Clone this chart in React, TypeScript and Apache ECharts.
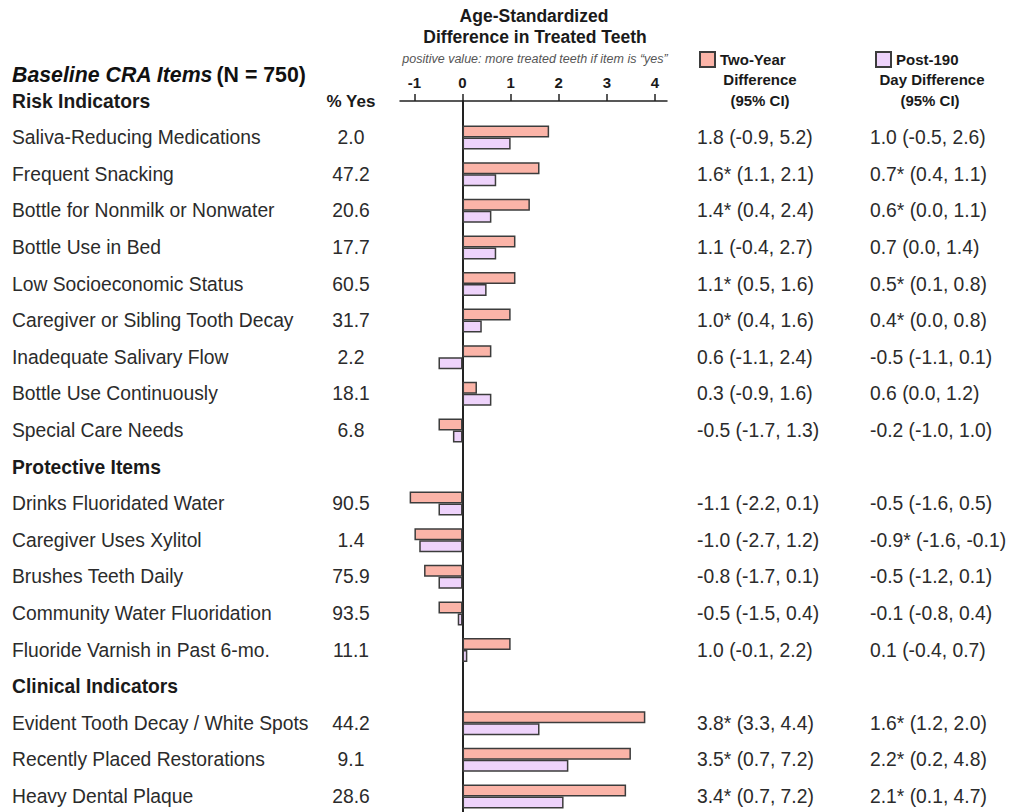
import React, { useEffect, useRef } from "react";
import * as echarts from "echarts";

const FONT = "'Liberation Sans', Arial, Helvetica, sans-serif";

// Row labels (first row of each group is a section header; last entry is a trailing blank row)
const items = [
  "Risk Indicators",
  "Saliva-Reducing Medications",
  "Frequent Snacking",
  "Bottle for Nonmilk or Nonwater",
  "Bottle Use in Bed",
  "Low Socioeconomic Status",
  "Caregiver or Sibling Tooth Decay",
  "Inadequate Salivary Flow",
  "Bottle Use Continuously",
  "Special Care Needs",
  "Protective Items",
  "Drinks Fluoridated Water",
  "Caregiver Uses Xylitol",
  "Brushes Teeth Daily",
  "Community Water Fluoridation",
  "Fluoride Varnish in Past 6-mo.",
  "Clinical Indicators",
  "Evident Tooth Decay / White Spots",
  "Recently Placed Restorations",
  "Heavy Dental Plaque",
  "",
];
const headers = ["Risk Indicators", "Protective Items", "Clinical Indicators"];

const pctYes = [
  "% Yes", "2.0", "47.2", "20.6", "17.7", "60.5", "31.7", "2.2", "18.1", "6.8",
  "", "90.5", "1.4", "75.9", "93.5", "11.1",
  "", "44.2", "9.1", "28.6", "",
];

const twoYear = [
  null, 1.8, 1.6, 1.4, 1.1, 1.1, 1.0, 0.6, 0.3, -0.5,
  null, -1.1, -1.0, -0.8, -0.5, 1.0,
  null, 3.8, 3.5, 3.4, null,
];
const post190 = [
  null, 1.0, 0.7, 0.6, 0.7, 0.5, 0.4, -0.5, 0.6, -0.2,
  null, -0.5, -0.9, -0.5, -0.1, 0.1,
  null, 1.6, 2.2, 2.1, null,
];

const twoYearCI = [
  "", "1.8 (-0.9, 5.2)", "1.6* (1.1, 2.1)", "1.4* (0.4, 2.4)", "1.1 (-0.4, 2.7)",
  "1.1* (0.5, 1.6)", "1.0* (0.4, 1.6)", "0.6 (-1.1, 2.4)", "0.3 (-0.9, 1.6)", "-0.5 (-1.7, 1.3)",
  "", "-1.1 (-2.2, 0.1)", "-1.0 (-2.7, 1.2)", "-0.8 (-1.7, 0.1)", "-0.5 (-1.5, 0.4)", "1.0 (-0.1, 2.2)",
  "", "3.8* (3.3, 4.4)", "3.5* (0.7, 7.2)", "3.4* (0.7, 7.2)", "",
];
const post190CI = [
  "", "1.0 (-0.5, 2.6)", "0.7* (0.4, 1.1)", "0.6* (0.0, 1.1)", "0.7 (0.0, 1.4)",
  "0.5* (0.1, 0.8)", "0.4* (0.0, 0.8)", "-0.5 (-1.1, 0.1)", "0.6 (0.0, 1.2)", "-0.2 (-1.0, 1.0)",
  "", "-0.5 (-1.6, 0.5)", "-0.9* (-1.6, -0.1)", "-0.5 (-1.2, 0.1)", "-0.1 (-0.8, 0.4)", "0.1 (-0.4, 0.7)",
  "", "1.6* (1.2, 2.0)", "2.2* (0.2, 4.8)", "2.1* (0.1, 4.7)", "",
];

const xTicks = [-1, 0, 1, 2, 3, 4];

const PINK = "#fbb4a8";
const LILAC = "#eed3fb";
const BORDER = "#3c3c3c";
const TEXT = "#2b2b2b";
const ROW_FS = 19.3;

function labelAxis(position: string, data: string[], margin: number, align: string, fs = ROW_FS, hfs = ROW_FS) {
  return {
    type: "category",
    data: data.map((_, i) => String(i)),
    position,
    inverse: true,
    boundaryGap: false,
    axisLine: { show: false, onZero: false },
    axisTick: { show: false },
    splitLine: { show: false },
    axisLabel: {
      interval: 0,
      margin,
      align,
      fontFamily: FONT,
      fontSize: fs,
      color: TEXT,
      formatter: (v: string) => {
        const t = data[Number(v)];
        if (!t) return "";
        if (headers.includes(t) || t === "% Yes") return `{h|${t}}`;
        return t;
      },
      rich: {
        h: { fontFamily: FONT, fontSize: hfs, fontWeight: "bold", color: "#1a1a1a" },
      },
    },
  };
}

const legendText = { fontFamily: FONT, fontSize: 15, fontWeight: "bold", color: "#1a1a1a" };
const subText = (text: string, x: number, y: number) => ({
  type: "text",
  x,
  y,
  style: { text, fontFamily: FONT, fontSize: 15, fontWeight: "bold", fill: "#1a1a1a", align: "center", verticalAlign: "middle" },
});

export default function App() {
  const ref = useRef<HTMLDivElement>(null);
  useEffect(() => {
    if (!ref.current) return;
    const chart = echarts.init(ref.current, undefined, { renderer: "svg" });
    const option: any = {
      animation: false,
      backgroundColor: "#ffffff",
      textStyle: { fontFamily: FONT },
      grid: { left: 400, right: 347, top: 101, height: 732, containLabel: false, outerBoundsMode: "none" },
      xAxis: {
        type: "value",
        position: "top",
        min: -1.3,
        max: 4.25,
        splitLine: { show: false },
        axisLine: { show: true, lineStyle: { color: "#222", width: 1.5 } },
        axisTick: { show: true, customValues: xTicks, length: 7, lineStyle: { color: "#222", width: 1.5 } },
        axisLabel: {
          customValues: xTicks,
          margin: 11,
          fontFamily: FONT,
          fontSize: 15,
          fontWeight: "bold",
          color: "#1a1a1a",
        },
      },
      yAxis: [
        {
          type: "category",
          data: items.map((_, i) => String(i)),
          inverse: true,
          boundaryGap: false,
          axisLine: { show: true, onZero: true, lineStyle: { color: "#222", width: 2 } },
          axisTick: { show: false },
          axisLabel: { show: false },
          splitLine: { show: false },
        },
        labelAxis("left", items, 388, "left"),
        labelAxis("left", pctYes, 49, "center", ROW_FS, 17),
        labelAxis("right", twoYearCI, 30, "left"),
        labelAxis("right", post190CI, 203, "left"),
      ],
      legend: [
        {
          data: ["Two-Year Difference (95% CI)"],
          left: 699,
          top: 51,
          icon: "rect",
          itemWidth: 15,
          itemHeight: 15,
          itemGap: 6,
          padding: 0,
          formatter: () => "Two-Year",
          textStyle: legendText,
        },
        {
          data: ["Post-190 Day Difference (95% CI)"],
          left: 875,
          top: 51,
          icon: "rect",
          itemWidth: 15,
          itemHeight: 15,
          padding: 0,
          formatter: () => "Post-190",
          textStyle: legendText,
        },
      ],
      series: [
        {
          name: "Two-Year Difference (95% CI)",
          type: "bar",
          yAxisIndex: 0,
          data: twoYear,
          barWidth: 12,
          barGap: "0%",
          itemStyle: { color: PINK, borderColor: BORDER, borderWidth: 1.5 },
        },
        {
          name: "Post-190 Day Difference (95% CI)",
          type: "bar",
          yAxisIndex: 0,
          data: post190,
          barWidth: 12,
          barGap: "0%",
          itemStyle: { color: LILAC, borderColor: BORDER, borderWidth: 1.5 },
        },
      ],
      graphic: [
        {
          type: "text",
          x: 12,
          y: 75,
          style: {
            text: "{i|Baseline CRA Items} {b|(N = 750)}",
            verticalAlign: "middle",
            rich: {
              i: { fontFamily: FONT, fontSize: 21.3, fontWeight: "bold", fontStyle: "italic", fill: "#111" },
              b: { fontFamily: FONT, fontSize: 21.3, fontWeight: "bold", fill: "#111" },
            },
          },
        },
        {
          type: "text",
          x: 534,
          y: 16,
          style: { text: "Age-Standardized", fontFamily: FONT, fontSize: 17.5, fontWeight: "bold", fill: "#1a1a1a", align: "center", verticalAlign: "middle" },
        },
        {
          type: "text",
          x: 535,
          y: 37,
          style: { text: "Difference in Treated Teeth", fontFamily: FONT, fontSize: 17.5, fontWeight: "bold", fill: "#1a1a1a", align: "center", verticalAlign: "middle" },
        },
        {
          type: "text",
          x: 535,
          y: 59,
          style: { text: "positive value: more treated teeth if item is \u201cyes\u201d", fontFamily: FONT, fontSize: 12.5, fontStyle: "italic", fill: "#555", align: "center", verticalAlign: "middle" },
        },
        subText("Difference", 760, 79),
        subText("(95% CI)", 760, 100),
        subText("Day Difference", 932, 79),
        subText("(95% CI)", 930, 100),
      ],
    };
    chart.setOption(option);
    return () => chart.dispose();
  }, []);
  return (
    <div
      ref={ref}
      style={{ position: "absolute", left: 0, top: 0, width: 1014, height: 812, background: "#fff" }}
    />
  );
}
